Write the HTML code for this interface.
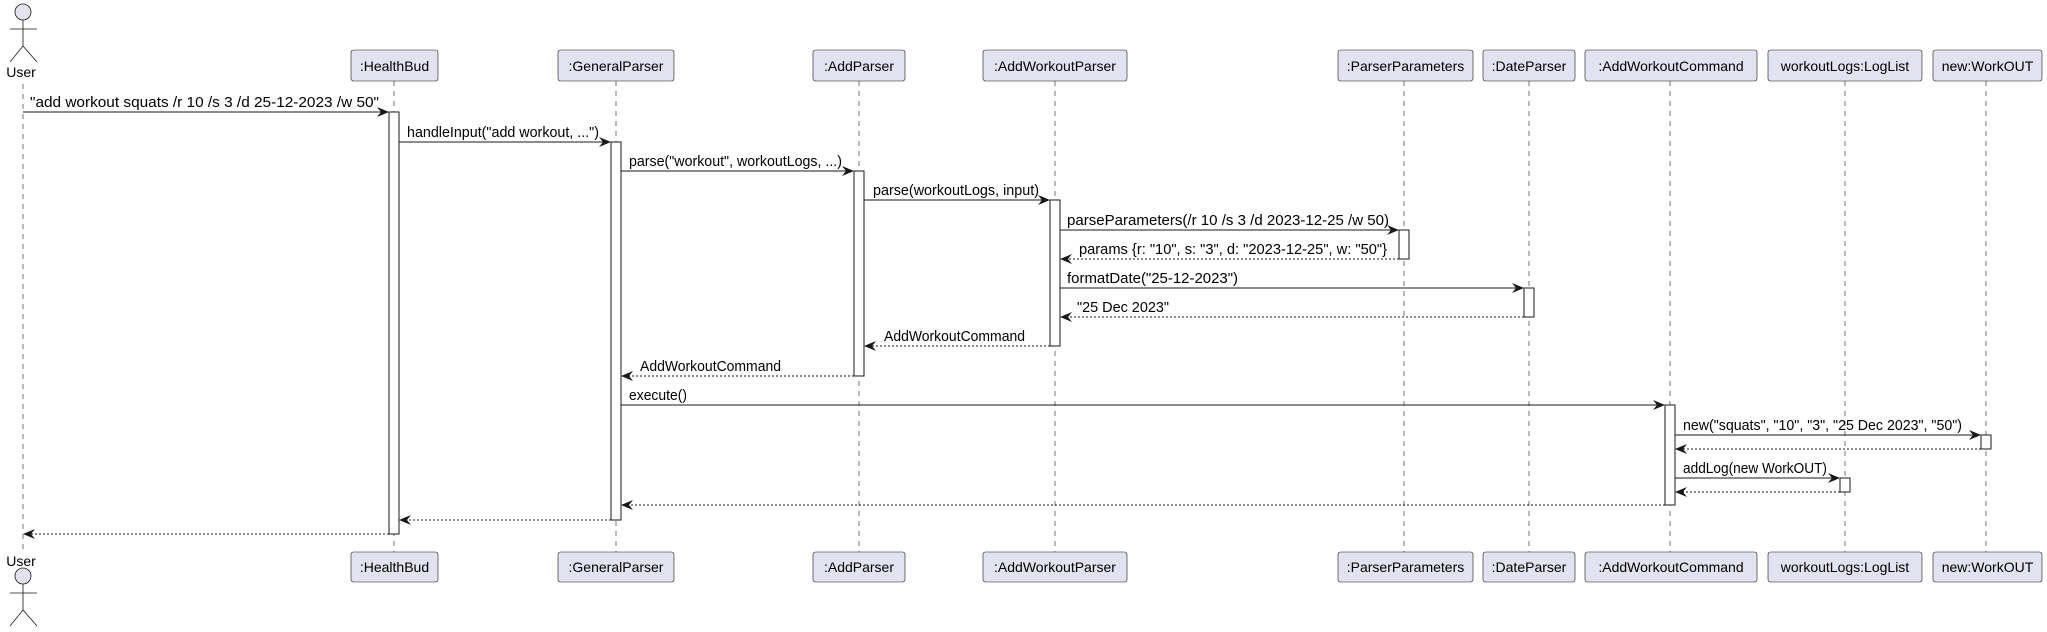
<!DOCTYPE html>
<html><head><meta charset="utf-8"><style>
html,body{margin:0;padding:0;background:#fff;}
svg{display:block;}
text{font-family:"Liberation Sans",sans-serif;fill:#000;}
.lbl{font-size:14.5px;}
.pt{font-size:14px;text-anchor:middle;}
.box{fill:#E2E2F0;stroke:#181818;stroke-width:0.6;}
.ll{stroke:#181818;stroke-width:0.6;stroke-dasharray:5,5;}
.bar{fill:#fff;stroke:#181818;stroke-width:1;}
.m{stroke:#181818;stroke-width:1;}
.r{stroke:#181818;stroke-width:1;stroke-dasharray:2,2;}
.ah{fill:#181818;}
</style></head><body>
<svg width="2047" height="632" viewBox="0 0 2047 632" xmlns="http://www.w3.org/2000/svg">
<g class="ll">
<line x1="23" y1="84" x2="23" y2="552"/>
<line x1="394" y1="81" x2="394" y2="552"/>
<line x1="616" y1="81" x2="616" y2="552"/>
<line x1="859" y1="81" x2="859" y2="552"/>
<line x1="1055" y1="81" x2="1055" y2="552"/>
<line x1="1404" y1="81" x2="1404" y2="552"/>
<line x1="1529" y1="81" x2="1529" y2="552"/>
<line x1="1670" y1="81" x2="1670" y2="552"/>
<line x1="1845" y1="81" x2="1845" y2="552"/>
<line x1="1986" y1="81" x2="1986" y2="552"/>
</g>
<g fill="#E2E2F0" stroke="#181818" stroke-width="0.8">
<circle cx="23" cy="12" r="8"/>
<line x1="23" y1="20" x2="23" y2="46"/><line x1="10" y1="29" x2="37" y2="29"/>
<line x1="23" y1="46" x2="10" y2="62"/><line x1="23" y1="46" x2="37" y2="62"/>
<circle cx="23" cy="576" r="8"/>
<line x1="23" y1="584" x2="23" y2="610"/><line x1="10" y1="593" x2="37" y2="593"/>
<line x1="23" y1="610" x2="10" y2="626"/><line x1="23" y1="610" x2="37" y2="626"/>
</g>
<text class="pt" x="21" y="77">User</text>
<text class="pt" x="21" y="566">User</text>
<g>
<rect class="box" x="351" y="50" width="87" height="31" rx="2.5"/>
<rect class="box" x="558" y="50" width="116" height="31" rx="2.5"/>
<rect class="box" x="813" y="50" width="92" height="31" rx="2.5"/>
<rect class="box" x="983" y="50" width="144" height="31" rx="2.5"/>
<rect class="box" x="1338" y="50" width="135" height="31" rx="2.5"/>
<rect class="box" x="1483" y="50" width="92" height="31" rx="2.5"/>
<rect class="box" x="1585" y="50" width="172" height="31" rx="2.5"/>
<rect class="box" x="1768" y="50" width="154" height="31" rx="2.5"/>
<rect class="box" x="1933" y="50" width="109" height="31" rx="2.5"/>
<rect class="box" x="351" y="552" width="87" height="30" rx="2.5"/>
<rect class="box" x="558" y="552" width="116" height="30" rx="2.5"/>
<rect class="box" x="813" y="552" width="92" height="30" rx="2.5"/>
<rect class="box" x="983" y="552" width="144" height="30" rx="2.5"/>
<rect class="box" x="1338" y="552" width="135" height="30" rx="2.5"/>
<rect class="box" x="1483" y="552" width="92" height="30" rx="2.5"/>
<rect class="box" x="1585" y="552" width="172" height="30" rx="2.5"/>
<rect class="box" x="1768" y="552" width="154" height="30" rx="2.5"/>
<rect class="box" x="1933" y="552" width="109" height="30" rx="2.5"/>
</g>
<g>
<text class="pt" x="394.5" y="71">:HealthBud</text>
<text class="pt" x="616" y="71">:GeneralParser</text>
<text class="pt" x="859" y="71">:AddParser</text>
<text class="pt" x="1055" y="71">:AddWorkoutParser</text>
<text class="pt" x="1405.5" y="71">:ParserParameters</text>
<text class="pt" x="1529" y="71">:DateParser</text>
<text class="pt" x="1671" y="71">:AddWorkoutCommand</text>
<text class="pt" x="1845" y="71">workoutLogs:LogList</text>
<text class="pt" x="1987.5" y="71">new:WorkOUT</text>
<text class="pt" x="394.5" y="572">:HealthBud</text>
<text class="pt" x="616" y="572">:GeneralParser</text>
<text class="pt" x="859" y="572">:AddParser</text>
<text class="pt" x="1055" y="572">:AddWorkoutParser</text>
<text class="pt" x="1405.5" y="572">:ParserParameters</text>
<text class="pt" x="1529" y="572">:DateParser</text>
<text class="pt" x="1671" y="572">:AddWorkoutCommand</text>
<text class="pt" x="1845" y="572">workoutLogs:LogList</text>
<text class="pt" x="1987.5" y="572">new:WorkOUT</text>
</g>
<g class="bar">
<rect x="389" y="112" width="10" height="422"/>
<rect x="611" y="142" width="10" height="378"/>
<rect x="854" y="171" width="10" height="205"/>
<rect x="1050" y="200" width="10" height="146"/>
<rect x="1399" y="230" width="10" height="29"/>
<rect x="1524" y="288" width="10" height="29"/>
<rect x="1665" y="405" width="10" height="100"/>
<rect x="1981" y="435" width="10" height="14"/>
<rect x="1840" y="478" width="10" height="14"/>
</g>
<g>
<line class="m" x1="23" y1="112" x2="388" y2="112"/><polygon class="ah" points="389,112 377,107 381,112 377,117"/>
<line class="m" x1="399" y1="142" x2="610" y2="142"/><polygon class="ah" points="611,142 599,137 603,142 599,147"/>
<line class="m" x1="621" y1="171" x2="853" y2="171"/><polygon class="ah" points="854,171 842,166 846,171 842,176"/>
<line class="m" x1="864" y1="200" x2="1049" y2="200"/><polygon class="ah" points="1050,200 1038,195 1042,200 1038,205"/>
<line class="m" x1="1060" y1="230" x2="1398" y2="230"/><polygon class="ah" points="1399,230 1387,225 1391,230 1387,235"/>
<line class="r" x1="1399" y1="259" x2="1061" y2="259"/><polygon class="ah" points="1060,259 1072,254 1068,259 1072,264"/>
<line class="m" x1="1060" y1="288" x2="1523" y2="288"/><polygon class="ah" points="1524,288 1512,283 1516,288 1512,293"/>
<line class="r" x1="1524" y1="317" x2="1061" y2="317"/><polygon class="ah" points="1060,317 1072,312 1068,317 1072,322"/>
<line class="r" x1="1050" y1="346" x2="865" y2="346"/><polygon class="ah" points="864,346 876,341 872,346 876,351"/>
<line class="r" x1="854" y1="376" x2="622" y2="376"/><polygon class="ah" points="621,376 633,371 629,376 633,381"/>
<line class="m" x1="621" y1="405" x2="1664" y2="405"/><polygon class="ah" points="1665,405 1653,400 1657,405 1653,410"/>
<line class="m" x1="1675" y1="435" x2="1980" y2="435"/><polygon class="ah" points="1981,435 1969,430 1973,435 1969,440"/>
<line class="r" x1="1981" y1="449" x2="1676" y2="449"/><polygon class="ah" points="1675,449 1687,444 1683,449 1687,454"/>
<line class="m" x1="1675" y1="478" x2="1839" y2="478"/><polygon class="ah" points="1840,478 1828,473 1832,478 1828,483"/>
<line class="r" x1="1840" y1="492" x2="1676" y2="492"/><polygon class="ah" points="1675,492 1687,487 1683,492 1687,497"/>
<line class="r" x1="1665" y1="505" x2="622" y2="505"/><polygon class="ah" points="621,505 633,500 629,505 633,510"/>
<line class="r" x1="611" y1="520" x2="400" y2="520"/><polygon class="ah" points="399,520 411,515 407,520 411,525"/>
<line class="r" x1="389" y1="534" x2="24" y2="534"/><polygon class="ah" points="23,534 35,529 31,534 35,539"/>
</g>
<g>
<text class="lbl" x="30" y="107" textLength="349" lengthAdjust="spacingAndGlyphs">"add workout squats /r 10 /s 3 /d 25-12-2023 /w 50"</text>
<text class="lbl" x="407" y="137" textLength="192" lengthAdjust="spacingAndGlyphs">handleInput("add workout, ...")</text>
<text class="lbl" x="629" y="166" textLength="213" lengthAdjust="spacingAndGlyphs">parse("workout", workoutLogs, ...)</text>
<text class="lbl" x="873" y="195" textLength="166" lengthAdjust="spacingAndGlyphs">parse(workoutLogs, input)</text>
<text class="lbl" x="1067" y="225" textLength="322" lengthAdjust="spacingAndGlyphs">parseParameters(/r 10 /s 3 /d 2023-12-25 /w 50)</text>
<text class="lbl" x="1079" y="254" textLength="308" lengthAdjust="spacingAndGlyphs">params {r: "10", s: "3", d: "2023-12-25", w: "50"}</text>
<text class="lbl" x="1067" y="283" textLength="171" lengthAdjust="spacingAndGlyphs">formatDate("25-12-2023")</text>
<text class="lbl" x="1077" y="312" textLength="92" lengthAdjust="spacingAndGlyphs">"25 Dec 2023"</text>
<text class="lbl" x="884" y="341" textLength="141" lengthAdjust="spacingAndGlyphs">AddWorkoutCommand</text>
<text class="lbl" x="640" y="371" textLength="141" lengthAdjust="spacingAndGlyphs">AddWorkoutCommand</text>
<text class="lbl" x="629" y="400" textLength="58" lengthAdjust="spacingAndGlyphs">execute()</text>
<text class="lbl" x="1683" y="430" textLength="279" lengthAdjust="spacingAndGlyphs">new("squats", "10", "3", "25 Dec 2023", "50")</text>
<text class="lbl" x="1683" y="473" textLength="144" lengthAdjust="spacingAndGlyphs">addLog(new WorkOUT)</text>
</g>
</svg>
</body></html>
